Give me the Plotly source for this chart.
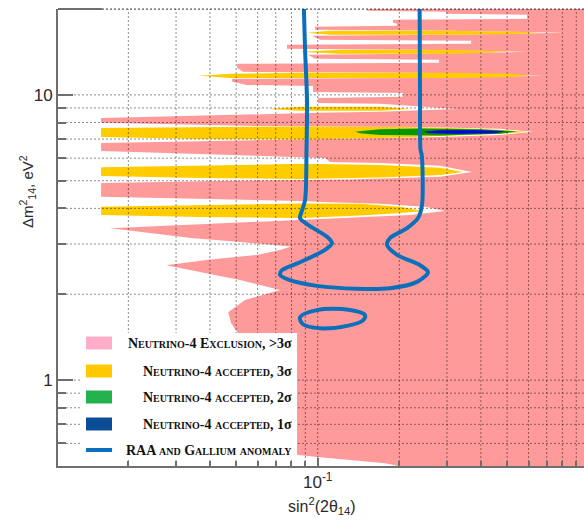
import math
import plotly.graph_objects as go

# ---------------------------------------------------------------- data
# Axis ranges (sin^2(2θ14), Δm^2_14 in eV^2)
X_RANGE = (0.0110, 0.961)
Y_RANGE = (0.5, 20.0)

# Left edge of the Neutrino-4 exclusion (>3σ) region: for each Δm² the
# smallest excluded sin²(2θ14); everything to the right is excluded.
excl_dm2 = [
    20.7, 19.71, 19.55, 19.24, 19.09, 18.48, 18.33, 17.89, 17.75, 17.46,
    17.32, 16.91, 16.77, 16.50, 16.24, 16.11, 15.60, 15.47, 15.10, 14.98,
    14.50, 14.39, 14.16, 13.93, 13.82, 13.38, 13.27, 12.95, 12.85, 12.44,
    12.04, 11.95, 11.66, 11.47, 11.38, 11.11, 10.84, 10.75, 10.24, 10.16,
    9.84, 9.76, 9.37, 9.30, 8.93, 8.72, 8.65, 8.51, 8.37, 8.30,
    7.98, 7.85, 7.78, 7.75, 7.72, 7.60, 7.42, 7.24, 7.12, 7.01,
    6.95, 6.90, 6.78, 6.36, 6.21, 6.06, 6.01, 5.82, 5.77, 5.64,
    5.37, 5.16, 5.05, 4.99, 4.91, 4.39, 4.32, 4.25, 4.20, 4.15,
    4.05, 3.92, 3.79, 3.70, 3.66, 3.58, 3.53, 3.47, 3.41, 3.36,
    3.23, 3.15, 3.05, 2.94, 2.86, 2.75, 2.64, 2.53, 2.43, 2.24,
    2.07, 1.99, 1.91, 1.73, 1.585, 1.46, 1.18, 0.851, 0.668, 0.568,
    0.546, 0.537, 0.524, 0.511, 0.499, 0.483,
]
excl_sin2 = [
    0.152, 0.152, 0.2975, 0.2975, 0.592, 0.592, 0.1896, 0.1896, 0.1962, 0.1962,
    0.0977, 0.0977, 0.3078, 0.8246, 0.3078, 0.0953, 0.1020, 0.368, 0.368, 0.0770,
    0.0770, 0.2385, 0.6022, 0.2385, 0.0921, 0.0977, 0.2803, 0.2803, 0.0504, 0.0504,
    0.0530, 0.2385, 0.6842, 0.2385, 0.0483, 0.0483, 0.0548, 0.0961, 0.0961, 0.2064,
    0.2064, 0.1003, 0.1003, 0.1698, 0.3266, 0.1698, 0.1020, 0.0475, 0.02405, 0.01586,
    0.01586, 0.0368, 0.0613, 0.1110, 0.2385, 0.4706, 0.6231, 0.4706, 0.2827, 0.1110,
    0.0667, 0.0368, 0.01586, 0.01586, 0.0368, 0.0790, 0.1064, 0.1110, 0.1698, 0.2827,
    0.3711, 0.2827, 0.1316, 0.0436, 0.01586, 0.01586, 0.0368, 0.0860, 0.1110, 0.1698,
    0.2489, 0.2950, 0.2191, 0.1209, 0.0860, 0.0504, 0.0353, 0.0247, 0.0171, 0.01945,
    0.0273, 0.0341, 0.0517, 0.0797, 0.0726, 0.0602, 0.0394, 0.0276, 0.0341, 0.0521,
    0.0726, 0.0623, 0.0539, 0.0467, 0.0479, 0.0508, 0.0539, 0.0602, 0.0696, 0.0790,
    0.0846, 0.1020, 0.1316, 0.1771, 0.2013, 0.2191,
]

# Neutrino-4 accepted regions at 3σ (closed contours, one per Δm² band)
acc3_a_sin2 = [0.0913, 0.111, 0.3078, 0.5627, 0.6612, 0.5627, 0.3078, 0.111]
acc3_a_dm2 = [16.50, 16.77, 16.77, 16.64, 16.50, 16.37, 16.24, 16.24]
acc3_b_sin2 = [0.086, 0.1209, 0.3078, 0.4215, 0.5124, 0.4215, 0.3078, 0.1209]
acc3_b_dm2 = [14.16, 14.39, 14.39, 14.27, 14.16, 14.04, 13.93, 13.93]
acc3_c_sin2 = [0.0365, 0.0475, 0.086, 0.3078, 0.5168, 0.6073, 0.5168, 0.3078, 0.086, 0.0475]
acc3_c_dm2 = [11.66, 11.85, 11.95, 11.95, 11.85, 11.66, 11.56, 11.47, 11.47, 11.47]
acc3_d_sin2 = [0.0656, 0.086, 0.1698, 0.2191, 0.1698, 0.086]
acc3_d_dm2 = [8.93, 9.08, 9.08, 8.93, 8.79, 8.79]
acc3_e_sin2 = [0.01586, 0.0368, 0.086, 0.2013, 0.3157, 0.4706, 0.592,
               0.4706, 0.3157, 0.2013, 0.086, 0.0368, 0.01586]
acc3_e_dm2 = [7.66, 7.69, 7.75, 7.72, 7.66, 7.54, 7.42, 7.30, 7.18, 7.09, 6.98, 7.01, 7.12]
acc3_f_sin2 = [0.01586, 0.0368, 0.086, 0.1698, 0.2827, 0.3438, 0.2827, 0.1698, 0.086, 0.0368, 0.01586]
acc3_f_dm2 = [5.57, 5.64, 5.73, 5.68, 5.55, 5.37, 5.24, 5.13, 5.07, 5.11, 5.20]
acc3_g_sin2 = [0.01586, 0.0368, 0.086, 0.1433, 0.2013, 0.2447, 0.2013, 0.1433, 0.086, 0.0368, 0.01586]
acc3_g_dm2 = [4.05, 4.10, 4.16, 4.15, 4.05, 3.92, 3.85, 3.78, 3.70, 3.73, 3.79]

# Neutrino-4 accepted at 2σ and 1σ (both inside the 7.4 eV² band)
acc2_sin2 = [0.1373, 0.1698, 0.2385, 0.3972, 0.5437, 0.4706, 0.2827, 0.1698, 0.1433]
acc2_dm2 = [7.42, 7.57, 7.63, 7.57, 7.45, 7.30, 7.21, 7.24, 7.33]
acc1_sin2 = [0.2447, 0.2827, 0.3972, 0.4911, 0.4510, 0.3351, 0.2597]
acc1_dm2 = [7.42, 7.51, 7.51, 7.45, 7.33, 7.30, 7.33]

# Reactor antineutrino + gallium anomaly contour (open at the top)
raa_sin2 = [0.0883, 0.0898, 0.0913, 0.0909, 0.0898, 0.0868, 0.0860, 0.0921, 0.1082, 0.1129,
            0.1064, 0.0860, 0.0738, 0.0726, 0.0790, 0.0994, 0.1396, 0.1849, 0.2325, 0.2553,
            0.2385, 0.1962, 0.1802, 0.1849, 0.2136, 0.2345, 0.2426, 0.2420, 0.2395, 0.2385,
            0.2375]
raa_dm2 = [24.9, 14.4, 9.61, 6.41, 4.28, 3.85, 3.70, 3.50, 3.18, 3.02,
           2.86, 2.59, 2.43, 2.34, 2.24, 2.14, 2.09, 2.10, 2.21, 2.39,
           2.53, 2.75, 2.98, 3.15, 3.41, 3.70, 4.11, 6.16, 6.41, 9.61,
           24.9]
# small closed island of the same contour
raa_island_sin2 = [0.0860, 0.0994, 0.1316, 0.1494, 0.1469, 0.1283, 0.1020, 0.0883, 0.0860]
raa_island_dm2 = [1.66, 1.76, 1.76, 1.69, 1.62, 1.55, 1.52, 1.57, 1.66]

# Tick positions
x_major = [0.1]
x_major_text = ["10<sup>-1</sup>"]
x_minor = [0.02, 0.03, 0.04, 0.05, 0.06, 0.07, 0.08, 0.09,
           0.2, 0.3, 0.4, 0.5, 0.6, 0.7, 0.8, 0.9]
y_major = [1, 10]
y_major_text = ["1", "10"]
y_minor = [0.6, 0.7, 0.8, 0.9, 2, 3, 4, 5, 6, 7, 8, 9, 20]

legend_labels = [
    "Neutrino-4 Exclusion, >3σ",
    "Neutrino-4 accepted, 3σ",
    "Neutrino-4 accepted, 2σ",
    "Neutrino-4 accepted, 1σ",
    "RAA and Gallium anomaly",
]

# ---------------------------------------------------------------- style
PINK = "#ff9a9a"
YELLOW = "#ffcc00"
GREEN = "#009a00"
BLUE = "#0000e6"
RAA_BLUE = "#0b70bb"
AXIS_GRAY = "#6e6e6e"
GRID = "rgba(0,0,0,0.45)"
LEG_COLORS = ["#ffadc9", "#ffc800", "#22b14c", "#0b4c96"]

W, H = 584, 520
ML, MR, MT, MB = 58, 0, 9, 54


def px_x(px):
    return (px - ML) / (W - ML - MR)


def px_y(py):
    return (H - MB - py) / (H - MT - MB)


def small_caps(label):
    # small capitals for the words; the Greek sigma keeps its lower-case form
    words, tail = (label[:-1], label[-1]) if label.endswith("σ") else (label, "")
    return ('<b><span style="font-variant:small-caps">' + words + "</span>" + tail + "</b>")


fig = go.Figure()


def region(xs, ys, color):
    fig.add_trace(go.Scatter(
        x=xs + [xs[0]], y=ys + [ys[0]], mode="lines", fill="toself",
        fillcolor=color, line=dict(width=0), hoverinfo="skip", showlegend=False))


# exclusion: boundary closed along the far right
region(excl_sin2 + [1.2, 1.2], excl_dm2 + [excl_dm2[-1], excl_dm2[0]], PINK)

for xs, ys in [(acc3_a_sin2, acc3_a_dm2), (acc3_b_sin2, acc3_b_dm2),
               (acc3_c_sin2, acc3_c_dm2), (acc3_d_sin2, acc3_d_dm2),
               (acc3_e_sin2, acc3_e_dm2), (acc3_f_sin2, acc3_f_dm2),
               (acc3_g_sin2, acc3_g_dm2)]:
    region(xs, ys, YELLOW)
region(acc2_sin2, acc2_dm2, GREEN)
region(acc1_sin2, acc1_dm2, BLUE)

# dotted grid drawn over the filled regions
gx, gy = [], []
for v in x_major + x_minor:
    gx += [v, v, None]
    gy += [Y_RANGE[0], Y_RANGE[1], None]
for v in y_major + y_minor:
    gx += [X_RANGE[0], X_RANGE[1], None]
    gy += [v, v, None]
fig.add_trace(go.Scatter(x=gx, y=gy, mode="lines", hoverinfo="skip", showlegend=False,
                         line=dict(color=GRID, width=1, dash="2px,2px")))

# RAA + gallium contour
fig.add_trace(go.Scatter(x=raa_sin2, y=raa_dm2, mode="lines", hoverinfo="skip", showlegend=False,
                         line=dict(color=RAA_BLUE, width=4, shape="spline", smoothing=0.8)))
fig.add_trace(go.Scatter(x=raa_island_sin2, y=raa_island_dm2, mode="lines", hoverinfo="skip",
                         showlegend=False,
                         line=dict(color=RAA_BLUE, width=4, shape="spline", smoothing=1.0)))

# ---------------------------------------------------------------- axes
tick_font = dict(family="Liberation Sans, Arial, sans-serif", size=17, color="#2a2a2a")
fig.update_xaxes(
    type="log", range=[math.log10(X_RANGE[0]), math.log10(X_RANGE[1])],
    tickmode="array", tickvals=x_major, ticktext=x_major_text,
    ticks="inside", ticklen=8, tickwidth=2, tickcolor=AXIS_GRAY,
    minor=dict(tickmode="array", tickvals=x_minor, ticks="inside", ticklen=5,
               tickwidth=2, tickcolor=AXIS_GRAY, showgrid=False),
    showgrid=False, zeroline=False, showline=True, linewidth=2, linecolor=AXIS_GRAY,
    layer="above traces", tickfont=tick_font, fixedrange=True,
)
fig.update_yaxes(
    type="log", range=[math.log10(Y_RANGE[0]), math.log10(Y_RANGE[1])],
    tickmode="array", tickvals=y_major, ticktext=y_major_text,
    ticks="inside", ticklen=15, tickwidth=2, tickcolor=AXIS_GRAY,
    minor=dict(tickmode="array", tickvals=y_minor, ticks="inside", ticklen=8,
               tickwidth=2, tickcolor=AXIS_GRAY, showgrid=False),
    showgrid=False, zeroline=False, showline=True, linewidth=2, linecolor=AXIS_GRAY,
    layer="above traces", tickfont=tick_font, fixedrange=True,
)

shapes = [
    # top frame: short solid piece at the corner, dotted beyond
    dict(type="line", xref="paper", yref="paper", x0=0, x1=px_x(102), y0=1, y1=1,
         line=dict(color=AXIS_GRAY, width=2), layer="above"),
    dict(type="line", xref="paper", yref="paper", x0=px_x(102), x1=1, y0=1, y1=1,
         line=dict(color="rgba(0,0,0,0.45)", width=1.5, dash="2px,2px"), layer="above"),
    # legend background
    dict(type="rect", xref="paper", yref="paper", x0=px_x(80), x1=px_x(297),
         y0=px_y(460), y1=px_y(333), fillcolor="white", line=dict(width=0), layer="above"),
]

annotations = []
row_y = [343, 371, 397, 424, 450]
for i, label in enumerate(legend_labels):
    if i < 4:
        shapes.append(dict(type="rect", xref="paper", yref="paper",
                           x0=px_x(86), x1=px_x(112), y0=px_y(row_y[i] + 6.5),
                           y1=px_y(row_y[i] - 6.5), fillcolor=LEG_COLORS[i],
                           line=dict(width=0), layer="above"))
    else:
        shapes.append(dict(type="line", xref="paper", yref="paper",
                           x0=px_x(86), x1=px_x(112), y0=px_y(row_y[i]), y1=px_y(row_y[i]),
                           line=dict(color=RAA_BLUE, width=4), layer="above"))
    annotations.append(dict(
        xref="paper", yref="paper", x=px_x(294), y=px_y(row_y[i]),
        xanchor="right", yanchor="middle", showarrow=False,
        text=small_caps(label),
        font=dict(family="Liberation Serif, serif", size=14, color="#111")))

# axis titles
annotations.append(dict(
    xref="paper", yref="paper", x=px_x(322), y=px_y(506), xanchor="center", yanchor="middle",
    showarrow=False, text="sin<sup>2</sup>(2θ<sub>14</sub>)",
    font=dict(family="Liberation Sans, Arial, sans-serif", size=16, color="#2a2a2a")))
annotations.append(dict(
    xref="paper", yref="paper", x=px_x(28), y=px_y(192), xanchor="center", yanchor="middle",
    showarrow=False, textangle=-90, text="Δm<sup>2</sup><sub>14</sub>, eV<sup>2</sup>",
    font=dict(family="Liberation Sans, Arial, sans-serif", size=15, color="#2a2a2a")))

fig.update_layout(
    width=W, height=H, margin=dict(l=ML, r=MR, t=MT, b=MB),
    paper_bgcolor="white", plot_bgcolor="white", showlegend=False,
    shapes=shapes, annotations=annotations,
)

fig.write_html("out.html")
